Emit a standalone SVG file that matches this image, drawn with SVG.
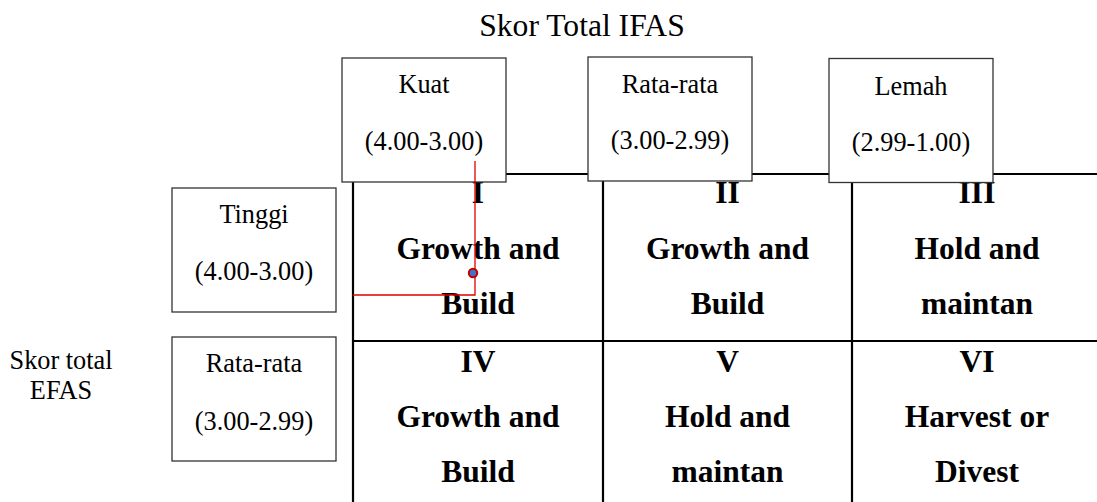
<svg xmlns="http://www.w3.org/2000/svg" width="1097" height="502" viewBox="0 0 1097 502">
<style>
.reg{font-family:"Liberation Serif","Times New Roman",serif;font-size:26.3px;fill:#000;text-anchor:middle}
.ttl{font-family:"Liberation Serif","Times New Roman",serif;font-size:31.6px;fill:#000;text-anchor:middle}
.bld{font-family:"Liberation Serif","Times New Roman",serif;font-size:31.5px;font-weight:bold;fill:#000;text-anchor:middle}
.box{fill:#fff;stroke:#333;stroke-width:1.3}
.grid{stroke:#000;stroke-width:2.2;fill:none}
.red{stroke:#e00000;stroke-width:1.3;fill:none}
</style>
<rect width="1097" height="502" fill="#fff"/>
<g id="grid">
<line class="grid" x1="353" y1="174" x2="1097" y2="174"/>
<line class="grid" x1="353" y1="341" x2="1097" y2="341"/>
<line class="grid" x1="353" y1="174" x2="353" y2="502"/>
<line class="grid" x1="603" y1="174" x2="603" y2="502"/>
<line class="grid" x1="852" y1="174" x2="852" y2="502"/>
</g>
<g id="cell-I"><text class="bld" x="478" y="203">I</text><text class="bld" x="478" y="259">Growth and</text><text class="bld" x="478" y="314">Build</text></g>
<g id="cell-II"><text class="bld" x="727.5" y="203">II</text><text class="bld" x="727.5" y="259">Growth and</text><text class="bld" x="727.5" y="314">Build</text></g>
<g id="cell-III"><text class="bld" x="977" y="203">III</text><text class="bld" x="977" y="259">Hold and</text><text class="bld" x="977" y="314">maintan</text></g>
<g id="cell-IV"><text class="bld" x="478" y="372">IV</text><text class="bld" x="478" y="427">Growth and</text><text class="bld" x="478" y="482">Build</text></g>
<g id="cell-V"><text class="bld" x="727.5" y="372">V</text><text class="bld" x="727.5" y="427">Hold and</text><text class="bld" x="727.5" y="482">maintan</text></g>
<g id="cell-VI"><text class="bld" x="977" y="372">VI</text><text class="bld" x="977" y="427">Harvest or</text><text class="bld" x="977" y="482">Divest</text></g>
<g id="title"><text class="ttl" x="582" y="36">Skor Total IFAS</text></g>
<g id="efas-label"><text class="reg" x="61" y="369">Skor total</text><text class="reg" x="61" y="399">EFAS</text></g>
<g id="box-kuat"><rect class="box" x="342" y="58" width="164" height="124"/><text class="reg" x="424" y="93">Kuat</text><text class="reg" x="424" y="150">(4.00-3.00)</text></g>
<g id="box-rata-ifas"><rect class="box" x="588" y="57" width="164" height="124"/><text class="reg" x="670" y="93">Rata-rata</text><text class="reg" x="670" y="149">(3.00-2.99)</text></g>
<g id="box-lemah"><rect class="box" x="829" y="58.5" width="164" height="124"/><text class="reg" x="911" y="95">Lemah</text><text class="reg" x="911" y="151">(2.99-1.00)</text></g>
<g id="box-tinggi"><rect class="box" x="172" y="188" width="164" height="124"/><text class="reg" x="254" y="223">Tinggi</text><text class="reg" x="254" y="280">(4.00-3.00)</text></g>
<g id="box-rata-efas"><rect class="box" x="172" y="337" width="164" height="124"/><text class="reg" x="254" y="372">Rata-rata</text><text class="reg" x="254" y="430">(3.00-2.99)</text></g>
<g id="connectors">
<polyline class="red" points="475,161 475,295 353,295"/>
<circle cx="473" cy="273" r="4.2" fill="#4472c4" stroke="#c00000" stroke-width="2"/>
</g>
</svg>
